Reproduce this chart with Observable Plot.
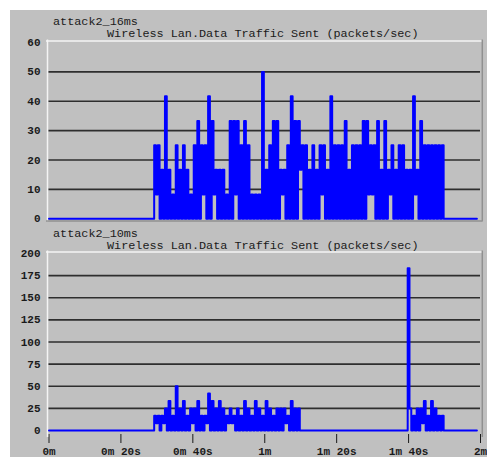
<!DOCTYPE html>
<html>
<head>
<meta charset="utf-8">
<script src="https://cdn.jsdelivr.net/npm/d3@7"></script>
<script src="https://cdn.jsdelivr.net/npm/@observablehq/plot@0.6"></script>
<style>
  html, body { margin: 0; padding: 0; background: #ffffff; }
  #bg { position: absolute; left: 10px; top: 10px; width: 477px; height: 447px; background: #c0c0c0; }
  .t { position: absolute; font-family: "Liberation Mono", "DejaVu Sans Mono", monospace; font-size: 11.8px; line-height: 12px; color: #1a1a1a; white-space: pre; }
  .panel { position: absolute; left: 0; }
  .panel text { font-weight: bold; }
</style>
</head>
<body>
<div id="bg"></div>
<div class="t" id="title1" style="left:53px; top:16px;"></div>
<div class="t" id="sub1" style="left:107px; top:27.5px;"></div>
<div class="t" id="title2" style="left:53px; top:227.5px;"></div>
<div class="t" id="sub2" style="left:107px; top:240px;"></div>
<div class="panel" id="p1" style="top:30px;"></div>
<div class="panel" id="p2" style="top:246px;"></div>
<script>
// ---- text ----
const panelTitles = ["attack2_16ms", "attack2_10ms"];
const metricTitle = "Wireless Lan.Data Traffic Sent (packets/sec)";

// ---- axes ----
const xTicks = [0, 20, 40, 60, 80, 100, 120];           // seconds
const xTickLabels = ["0m", "0m 20s", "0m 40s", "1m", "1m 20s", "1m 40s", "2m"];
const yTicks16 = [0, 10, 20, 30, 40, 50, 60];
const yTicks10 = [0, 25, 50, 75, 100, 125, 150, 175, 200];

// ---- series: attack2_16ms (packets/sec) ----
// idle before / after the burst
const idle16 = [[0, 0], [29, 0], [109.75, 0], [119, 0]];
// burst samples every 0.5 s starting at 29.25 s
const burst16Start = 29.25;
const burst16Step = 0.5;
const burst16 = [
  25, 8.3,  25, 0,  16.7, 0,  41.7, 0,  16.7, 0,  8.3, 0,  25, 0,  16.7, 0,  25, 0,  16.7, 0,   // 29-38
  8.3, 0,  25, 0,  33.3, 0,  25, 8.3,  25, 0,  41.7, 0,  33.3, 8.3,  16.7, 0,  16.7, 0,  16.7, 0, // 39-48
  8.3, 0,  33.3, 0,  33.3, 8.3,  33.3, 0,  25, 0,  33.3, 0,  25, 0,  8.3, 0,  8.3, 0,  8.3, 0,   // 49-58
  50, 0,  16.7, 0,  25, 0,  33.3, 0,  33.3, 0,  16.7, 8.3,  16.7, 0,  25, 0,  41.7, 0,  33.3, 0, // 59-68
  33.3, 16.7,  25, 0,  25, 0,  16.7, 0,  25, 0,  16.7, 0,  25, 8.3,  25, 0,  16.7, 0,  41.7, 0, // 69-78
  25, 0,  25, 0,  25, 0,  33.3, 0,  16.7, 0,  25, 0,  25, 0,  25, 0,  33.3, 0,  33.3, 8.3,      // 79-88
  25, 8.3,  25, 0,  33.3, 0,  16.7, 0,  33.3, 0,  16.7, 8.3,  25, 0,  16.7, 0,  25, 0,  25, 0,  // 89-98
  16.7, 0,  16.7, 0,  41.7, 8.3,  16.7, 0,  33.3, 0,  25, 0,  25, 0,  25, 0,  25, 0,  25, 0,     // 99-108
  25                                                                                             // 109
];

// ---- series: attack2_10ms (packets/sec) ----
const idle10 = [[0, 0], [29, 0], [69.75, 0], [99.25, 0], [109.75, 0], [119, 0]];
const burst10aStart = 29.25;
const burst10aStep = 0.5;
const burst10a = [
  16.7, 8.3,  16.7, 0,  16.7, 8.3,  25, 0,  33.3, 0,  16.7, 0,  50, 0,  25, 0,  33.3, 0,  16.7, 0,   // 29-38
  25, 8.3,  25, 0,  33.3, 0,  16.7, 0,  16.7, 8.3,  41.7, 0,  33.3, 0,  25, 0,  33.3, 0,  25, 0,     // 39-48
  16.7, 8.3,  25, 8.3,  16.7, 0,  25, 0,  16.7, 0,  33.3, 0,  25, 0,  16.7, 0,  33.3, 0,  25, 0,     // 49-58
  16.7, 0,  33.3, 0,  25, 0,  16.7, 0,  25, 0,  25, 0,  25, 8.3,  16.7, 0,  33.3, 0,  25, 0,         // 59-68
  25                                                                                                 // 69
];
const burst10bStart = 99.75;
const burst10bStep = 0.5;
const burst10b = [
  183.3,  25, 0,  16.7, 0,  25, 0,  25, 8.3,  33.3, 0,  16.7, 0,  33.3, 0,  25, 0,  16.7, 0,  16.7
];

function series(idle, bursts) {
  const pts = idle.map(([t, v]) => ({t, v}));
  for (const [start, step, vals] of bursts) {
    vals.forEach((v, i) => pts.push({t: start + i * step, v}));
  }
  return pts.sort((a, b) => a.t - b.t);
}
const data16 = series(idle16, [[burst16Start, burst16Step, burst16]]);
const data10 = series(idle10, [[burst10aStart, burst10aStep, burst10a], [burst10bStart, burst10bStep, burst10b]]);

document.getElementById("title1").textContent = panelTitles[0];
document.getElementById("title2").textContent = panelTitles[1];
document.getElementById("sub1").textContent = metricTitle;
document.getElementById("sub2").textContent = metricTitle;

const FONT = '"Liberation Mono", "DejaVu Sans Mono", monospace';
const GRID = "#2e2e2e";
const DARKEDGE = "#909090";
const LIGHTEDGE = "#f4f4f4";
const BLUE = "#0000ff";

function frameMarks(ymax) {
  return [
    Plot.ruleX([0], {stroke: LIGHTEDGE, strokeWidth: 1.5, dx: -1.5, insetTop: -2.5, insetBottom: -3}),
    Plot.ruleY([ymax], {stroke: LIGHTEDGE, strokeWidth: 1.5, dy: -1.5, insetLeft: -2.5, insetRight: -2.5}),
    Plot.ruleX([120], {stroke: DARKEDGE, strokeWidth: 1.5, dx: 1.8, insetTop: -2.5, insetBottom: -3}),
  ];
}

const p1 = Plot.plot({
  width: 487, height: 196,
  marginLeft: 48.5, marginRight: 7, marginTop: 12, marginBottom: 7.7,
  style: {background: "transparent", fontFamily: FONT, fontSize: "11px", color: "#1a1a1a", overflow: "visible"},
  x: {domain: [0, 120], axis: null},
  y: {domain: [0, 60], ticks: yTicks16, label: null, tickSize: 0, tickPadding: 8.5},
  marks: [
    ...frameMarks(60),
    Plot.ruleY([0], {stroke: DARKEDGE, strokeWidth: 1.5, dy: 2.2, insetLeft: -2.5, insetRight: -2.5}),
    Plot.ruleY(yTicks16.filter(d => d > 0 && d < 60), {stroke: GRID, strokeWidth: 1.6}),
    Plot.line(data16, {x: "t", y: "v", stroke: BLUE, strokeWidth: 2, curve: "step-after"})
  ]
});
document.getElementById("p1").appendChild(p1);

const p2 = Plot.plot({
  width: 487, height: 211,
  marginLeft: 48.5, marginRight: 7, marginTop: 7, marginBottom: 23,
  insetBottom: 4,
  style: {background: "transparent", fontFamily: FONT, fontSize: "11px", color: "#1a1a1a", overflow: "visible"},
  x: {domain: [0, 120], ticks: xTicks, tickFormat: d => xTickLabels[xTicks.indexOf(d)], label: null, tickSize: 9, tickPadding: 4},
  y: {domain: [0, 200], ticks: yTicks10, label: null, tickSize: 0, tickPadding: 8.5},
  marks: [
    ...frameMarks(200),
    Plot.ruleY(yTicks10.filter(d => d > 0 && d < 200), {stroke: GRID, strokeWidth: 1.6}),
    Plot.line(data10, {x: "t", y: "v", stroke: BLUE, strokeWidth: 2, curve: "step-after"})
  ]
});
document.getElementById("p2").appendChild(p2);
</script>
</body>
</html>
